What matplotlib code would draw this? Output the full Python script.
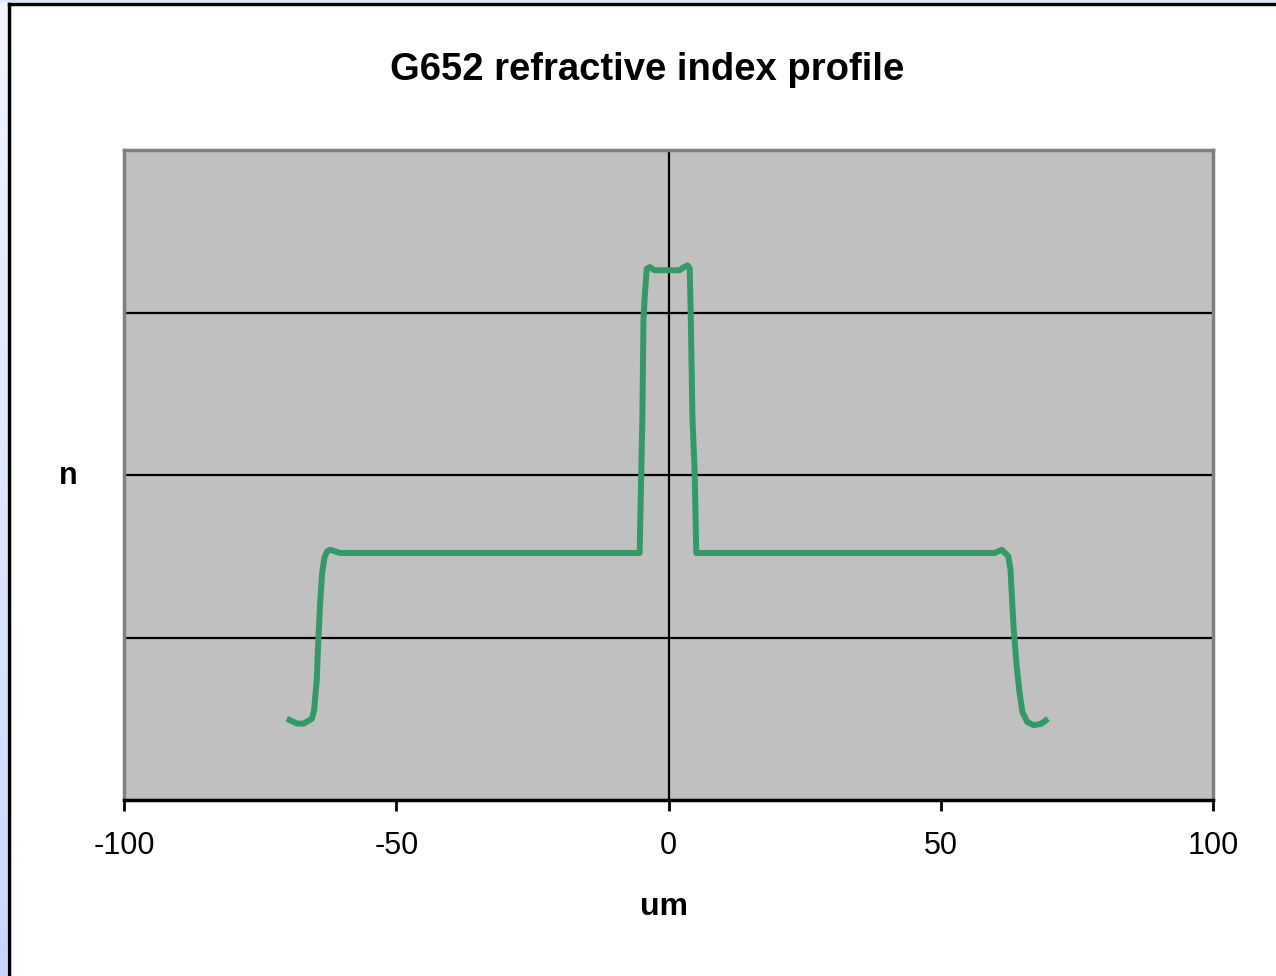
import numpy as np
import matplotlib.pyplot as plt
from matplotlib.patches import Rectangle

plt.rcParams['font.family'] = ['Liberation Sans', 'DejaVu Sans']
plt.rcParams['axes.unicode_minus'] = False

# radial position (um) and relative index level (arbitrary units, grid step = 1)
radius = [-70.1, -68.2, -67.0, -65.5, -65.1, -64.6, -64.3, -64.0, -63.6,
          -63.2, -62.7, -62.1, -61.2, -60.3,
          -5.6, -5.3, -5.0, -4.8, -4.6, -4.4, -4.0, -3.4, -2.6,
          2.0, 2.9, 3.5, 3.9, 4.1, 4.4, 4.8, 5.1, 5.8,
          59.9, 61.2, 62.4, 62.8, 63.1, 63.4, 63.9, 64.4, 65.0, 65.9, 67.1,
          68.5, 69.7]
index = [0.50, 0.47, 0.47, 0.50, 0.55, 0.74, 0.99, 1.20, 1.40,
         1.49, 1.53, 1.54, 1.53, 1.52,
         1.52, 1.52, 2.02, 2.35, 2.95, 3.08, 3.27, 3.28, 3.26,
         3.26, 3.28, 3.29, 3.27, 2.95, 2.35, 2.02, 1.52, 1.52,
         1.52, 1.54, 1.50, 1.42, 1.23, 1.05, 0.84, 0.68, 0.54, 0.48, 0.46,
         0.47, 0.50]

x_ticks = [-100, -50, 0, 50, 100]
y_ticks = [0, 1, 2, 3, 4]

fig = plt.figure(figsize=(12.76, 9.76), dpi=100)

# light blue strip + black frame on the left / top edge
strip = np.linspace(0, 1, 256).reshape(-1, 1)
strip_ax = fig.add_axes([0, 0, 7 / 1276, 1])
strip_ax.imshow(strip, aspect='auto', cmap=plt.matplotlib.colors.LinearSegmentedColormap.from_list(
    'edge', ['#f2f5ff', '#c8d6ff']), origin='upper')
strip_ax.axis('off')
fig.patches.append(Rectangle((0, 1 - 2 / 976), 1, 2 / 976, transform=fig.transFigure,
                             facecolor='#dbe4ff', edgecolor='none'))
fig.add_artist(plt.Line2D([8.5 / 1276, 8.5 / 1276], [0, 1 - 3.5 / 976],
                          transform=fig.transFigure, color='black', lw=2.5))
fig.add_artist(plt.Line2D([8.5 / 1276, 1], [1 - 3.5 / 976, 1 - 3.5 / 976],
                          transform=fig.transFigure, color='black', lw=2.5))

ax = fig.add_axes([124 / 1276, 176 / 976, 1089 / 1276, 650 / 976])
ax.set_facecolor('#c0c0c0')

ax.plot(radius, index, color='#339966', lw=4.3, solid_joinstyle='round',
        solid_capstyle='butt', zorder=3)

ax.set_xlim(-100, 100)
ax.set_ylim(0, 4)
ax.set_xticks(x_ticks)
ax.set_yticks(y_ticks)
ax.set_yticklabels([])
ax.tick_params(axis='y', length=0)
ax.tick_params(axis='x', direction='out', length=8, width=2, labelsize=22,
               pad=14, colors='black')

for y in y_ticks[1:-1]:
    ax.axhline(y, color='black', lw=1.6, zorder=1)
ax.axvline(0, color='black', lw=1.6, zorder=1)

for side in ['left', 'top', 'right']:
    ax.spines[side].set_color('#808080')
    ax.spines[side].set_linewidth(2.5)
ax.spines['bottom'].set_color('black')
ax.spines['bottom'].set_linewidth(2.5)

fig.text(647 / 1276, 1 - 70 / 976, 'G652 refractive index profile',
         ha='center', va='center', fontsize=27.5, fontweight='bold')
fig.text(664 / 1276, 1 - 907 / 976, 'um', ha='center', va='center',
         fontsize=23, fontweight='bold')
fig.text(68 / 1276, 1 - 476 / 976, 'n', ha='center', va='center',
         fontsize=22, fontweight='bold')

fig.savefig('out.png', dpi=100)
